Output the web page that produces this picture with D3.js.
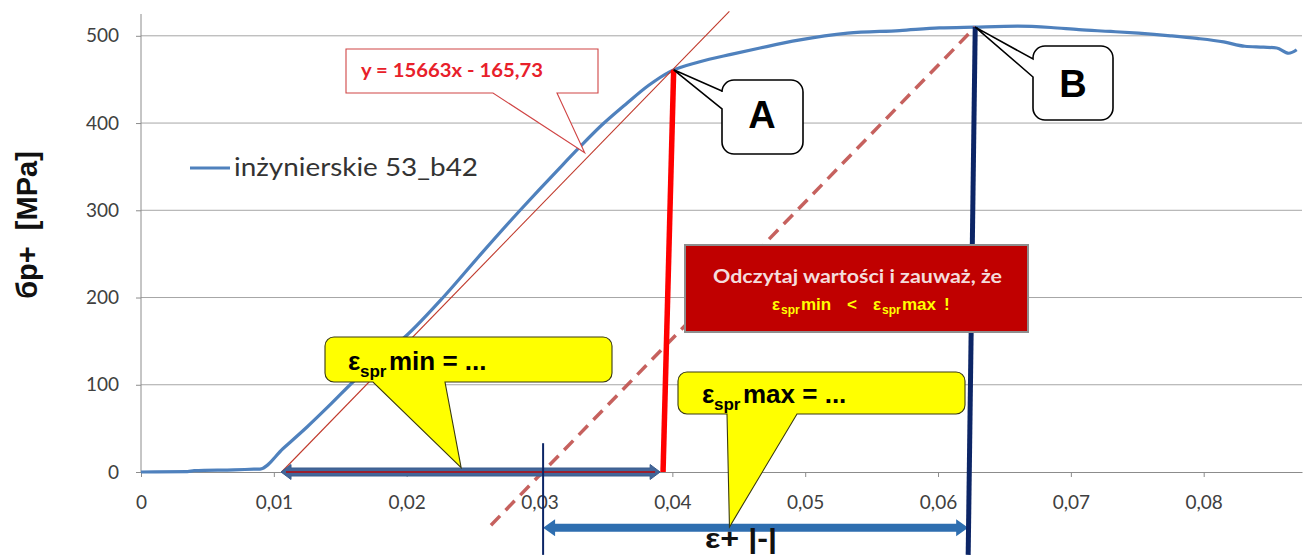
<!DOCTYPE html>
<html><head><meta charset="utf-8">
<script src="https://cdn.jsdelivr.net/npm/d3@7"></script>
<style>html,body{margin:0;padding:0;background:#fff;overflow:hidden}</style>
</head><body><svg id="c" width="1304" height="555"></svg>
<script>
// ---------- data ----------
const strain = [0, 0.0035, 0.0040, 0.0070, 0.0085, 0.00896, 0.0107, 0.0125, 0.0143, 0.01611, 0.0180, 0.02003, 0.02274, 0.0256, 0.02854, 0.0300, 0.03155, 0.0330, 0.03471, 0.0366, 0.0382, 0.03983, 0.0420, 0.0445, 0.0466, 0.0495, 0.0532, 0.0571, 0.0601, 0.0627, 0.0660, 0.0685, 0.0706, 0.0730, 0.0751, 0.0775, 0.0795, 0.0815, 0.0831, 0.0845, 0.0855, 0.0864, 0.0870];
const stress = [0, 0.5, 1.5, 2.5, 3.2, 3.4, 27, 51.6, 78, 105.5, 131, 157, 200, 250, 300, 324, 349, 372, 398, 423, 443, 459, 470, 479, 486, 495, 503, 506, 509, 510, 511, 509.5, 507, 505, 503, 500, 497, 493, 488, 487, 486, 480, 484];
const yTickValues = [0, 100, 200, 300, 400, 500];
const yTickLabels = ["0", "100", "200", "300", "400", "500"];
const xTickValues = [0, 0.01, 0.02, 0.03, 0.04, 0.05, 0.06, 0.07, 0.08];
const xTickLabels = ["0", "0,01", "0,02", "0,03", "0,04", "0,05", "0,06", "0,07", "0,08"];
const seriesName = "inżynierskie 53_b42";
const yTitle = "бp+  [MPa]";
const fitSlope = 15663, fitIntercept = -165.73;
const fitLabel = "y = 15663x - 165,73";
const fitTopStress = 528;
const pointA = [0.0401, 461];
const pointB = [0.0628, 510];
const redLineBottom = [0.0393, 0];
const navyLineBottom = [0.06227, -95];
const dashBottomStress = -61;
const minArrowX = [0.01054, 0.03908];
const minArrowStress = 0;
const plusArrowX = [0.03027, 0.06227];
const plusArrowStress = -64;
const markerX = 0.03027;
const markerStress = [33, -95];
const eqTip = [0.0334, 366];
const minTip = [0.0241, 5];
const maxTip = [0.0443, -63];
const labelA = "A", labelB = "B";
const noteLine1 = "Odczytaj wartości i zauważ, że";
const plusLabel = "ε+ |-|";

// ---------- scales ----------
const svg = d3.select("#c");
const x = d3.scaleLinear().domain([0, 0.0874]).range([141, 1302]);
const y = d3.scaleLinear().domain([0, 525]).range([472, 14]);
const P = d => [x(d[0]), y(d[1])];

// gridlines
svg.append("g").selectAll("line").data(yTickValues.filter(v => v > 0)).join("line")
  .attr("x1", x(0)).attr("x2", 1302).attr("y1", d => y(d)).attr("y2", d => y(d))
  .attr("stroke", "#a6a6a6").attr("stroke-width", 1);

// axes
const gy = svg.append("g").attr("transform", `translate(${x(0)},0)`)
  .call(d3.axisLeft(y).tickValues(yTickValues).tickFormat((d, i) => yTickLabels[i]).tickSize(5).tickSizeOuter(0).tickPadding(17));
const gx = svg.append("g").attr("transform", `translate(0,${y(0)})`)
  .call(d3.axisBottom(x).tickValues(xTickValues).tickFormat((d, i) => xTickLabels[i]).tickSize(5).tickSizeOuter(0));
[gx, gy].forEach(g => {
  g.select(".domain").attr("stroke", "#8c8c8c");
  g.selectAll(".tick line").attr("stroke", "#8c8c8c");
  g.selectAll("text").attr("fill", "#404040").style("font-family", "Lato, 'Open Sans', sans-serif").style("font-size", "19px");
});
gx.selectAll("text").attr("y", 37).attr("dy", 0);
gy.select(".domain").attr("d", `M0,${y(525)}V${y(0)}`);

// y title
svg.append("text").attr("transform", `translate(37,225) rotate(-90)`)
  .attr("text-anchor", "middle").attr("font-family", "'Liberation Sans', Arial, sans-serif")
  .style("white-space", "pre").attr("xml:space", "preserve")
  .attr("font-weight", "bold").attr("font-size", 29).attr("fill", "#111").text(yTitle);

// series
const line = d3.line().x(d => x(d[0])).y(d => y(d[1]));
const smooth = d3.line().x(d => x(d[0])).y(d => y(d[1])).curve(d3.curveMonotoneX);
svg.append("path").datum(strain.map((s, i) => [s, stress[i]]))
  .attr("d", smooth).attr("fill", "none").attr("stroke", "#4f81bd").attr("stroke-width", 3.2).attr("stroke-linejoin", "round");

// fit line
const fx0 = -fitIntercept / fitSlope, fx1 = (fitTopStress - fitIntercept) / fitSlope;
svg.append("path").datum([[fx0, 0], [fx1, fitTopStress]]).attr("d", line)
  .attr("stroke", "#c0392b").attr("stroke-width", 1.1).attr("fill", "none");

// dashed parallel through B
const dx0 = pointB[0] - (pointB[1] - dashBottomStress) / fitSlope;
svg.append("path").datum([[dx0, dashBottomStress], pointB]).attr("d", line)
  .attr("stroke", "#c0504d").attr("stroke-width", 3.5).attr("stroke-dasharray", "13,8").attr("fill", "none").attr("opacity", 0.9);

// legend
svg.append("line").attr("x1", 190).attr("x2", 230).attr("y1", 168).attr("y2", 168).attr("stroke", "#4f81bd").attr("stroke-width", 3.2);
svg.append("text").attr("x", 234).attr("y", 176).attr("font-family", "Lato, 'Open Sans', sans-serif").attr("font-size", 25)
  .attr("textLength", 244).attr("lengthAdjust", "spacingAndGlyphs").attr("fill", "#333").text(seriesName);

// arrows
function dblArrow(x1, x2, yy, sh, hw, hl) {
  return `M${x1},${yy}L${x1+hl},${yy-hw/2}L${x1+hl},${yy-sh/2}L${x2-hl},${yy-sh/2}L${x2-hl},${yy-hw/2}L${x2},${yy}L${x2-hl},${yy+hw/2}L${x2-hl},${yy+sh/2}L${x1+hl},${yy+sh/2}L${x1+hl},${yy+hw/2}Z`;
}
svg.append("path").attr("d", dblArrow(x(minArrowX[0]), x(minArrowX[1]), y(minArrowStress), 8, 15, 10)).attr("fill", "#42669a").attr("stroke", "#3a5c8c").attr("stroke-width", 1);
svg.append("line").attr("x1", x(minArrowX[0]) + 5).attr("x2", x(minArrowX[1]) - 5).attr("y1", y(minArrowStress)).attr("y2", y(minArrowStress)).attr("stroke", "#9b1f2e").attr("stroke-width", 2.2);
svg.append("path").attr("d", dblArrow(x(plusArrowX[0]), x(plusArrowX[1]), y(plusArrowStress), 8, 17, 12)).attr("fill", "#2e6eb0");

// vertical lines
svg.append("path").datum([pointA, redLineBottom]).attr("d", line).attr("stroke", "#ff0000").attr("stroke-width", 5.5).attr("fill", "none");
svg.append("path").datum([pointB, navyLineBottom]).attr("d", line).attr("stroke", "#0c2566").attr("stroke-width", 5).attr("fill", "none");
svg.append("path").datum([[markerX, markerStress[0]], [markerX, markerStress[1]]]).attr("d", line).attr("stroke", "#0c2566").attr("stroke-width", 2).attr("fill", "none");

// callout helpers
function calloutLeft(bx, by, w, h, r, a1, a2, t) {
  return `M${bx+r},${by}H${bx+w-r}A${r},${r} 0 0 1 ${bx+w},${by+r}V${by+h-r}A${r},${r} 0 0 1 ${bx+w-r},${by+h}H${bx+r}A${r},${r} 0 0 1 ${bx},${by+h-r}V${a2}L${t[0]},${t[1]}L${bx},${a1}V${by+r}A${r},${r} 0 0 1 ${bx+r},${by}Z`;
}
function calloutBottom(bx, by, w, h, r, b1, b2, t) {
  return `M${bx+r},${by}H${bx+w-r}A${r},${r} 0 0 1 ${bx+w},${by+r}V${by+h-r}A${r},${r} 0 0 1 ${bx+w-r},${by+h}H${b2}L${t[0]},${t[1]}L${b1},${by+h}H${bx+r}A${r},${r} 0 0 1 ${bx},${by+h-r}V${by+r}A${r},${r} 0 0 1 ${bx+r},${by}Z`;
}

// equation callout
svg.append("path").attr("d", calloutBottom(346, 49, 252, 44, 0, 493, 557, P(eqTip)))
  .attr("fill", "#fff").attr("stroke", "#d04545").attr("stroke-width", 1.1);
svg.append("text").attr("x", 361).attr("y", 77).attr("font-family", "Lato, 'Liberation Sans', sans-serif").attr("font-weight", "bold")
  .attr("font-size", 18).attr("fill", "#e8202a").attr("textLength", 182).attr("lengthAdjust", "spacingAndGlyphs").text(fitLabel);

// A / B callouts
svg.append("path").attr("d", calloutLeft(722, 80, 81, 74, 12, 91, 109, P(pointA))).attr("fill", "#fff").attr("stroke", "#000").attr("stroke-width", 1.6);
svg.append("text").attr("x", 762).attr("y", 128).attr("text-anchor", "middle").attr("font-family", "'Liberation Sans', Arial, sans-serif").attr("font-weight", "bold").attr("font-size", 38).text(labelA);
svg.append("path").attr("d", calloutLeft(1033, 46, 80, 74, 12, 59, 77, P(pointB))).attr("fill", "#fff").attr("stroke", "#000").attr("stroke-width", 1.6);
svg.append("text").attr("x", 1073).attr("y", 97).attr("text-anchor", "middle").attr("font-family", "'Liberation Sans', Arial, sans-serif").attr("font-weight", "bold").attr("font-size", 38).text(labelB);

// red note box
svg.append("rect").attr("x", 685).attr("y", 245).attr("width", 343).attr("height", 87).attr("fill", "#c00000").attr("stroke", "#8e8e8e").attr("stroke-width", 2);
svg.append("text").attr("x", 713).attr("y", 283).attr("font-family", "Lato, 'Liberation Sans', sans-serif").attr("font-weight", "bold").attr("font-size", 18)
  .attr("fill", "#f4dcdc").attr("textLength", 289).attr("lengthAdjust", "spacingAndGlyphs").text(noteLine1);
const n2 = svg.append("text").attr("y", 310).attr("font-family", "'Liberation Sans', Arial, sans-serif").attr("font-weight", "bold").attr("fill", "#ffff00").attr("font-size", 17);
[["ε", 772, 310, 17], ["spr", 781, 314, 12], ["min", 801, 310, 17], ["<", 847, 310, 17], ["ε", 873, 310, 17], ["spr", 882, 314, 12], ["max", 902, 310, 17], ["!", 944, 310, 17]]
  .forEach(t => n2.append("tspan").attr("x", t[1]).attr("y", t[2]).attr("font-size", t[3]).text(t[0]));

// yellow callouts
function yellowLabel(txt, x0, base) {
  const t = svg.append("text").attr("font-family", "'Liberation Sans', Arial, sans-serif").attr("font-weight", "bold").attr("fill", "#000");
  t.append("tspan").attr("x", x0).attr("y", base).attr("font-size", 26).text("ε");
  t.append("tspan").attr("x", x0 + 12).attr("y", base + 7).attr("font-size", 17).text("spr");
  t.append("tspan").attr("x", x0 + 41).attr("y", base).attr("font-size", 26).text(txt + " = ...");
}
svg.append("path").attr("d", calloutBottom(325, 337, 287, 45, 9, 373, 445, P(minTip))).attr("fill", "#ffff00").attr("stroke", "#3a3a10").attr("stroke-width", 1.1);
yellowLabel("min", 348, 370);
svg.append("path").attr("d", calloutBottom(678, 372, 287, 42, 9, 727, 797, P(maxTip))).attr("fill", "#ffff00").attr("stroke", "#3a3a10").attr("stroke-width", 1.1);
yellowLabel("max", 702, 403);

// epsilon label
svg.append("text").attr("x", 705).attr("y", 548).attr("font-family", "'Liberation Sans', Arial, sans-serif")
  .attr("font-weight", "bold").attr("font-size", 27).attr("textLength", 72).attr("lengthAdjust", "spacingAndGlyphs").attr("fill", "#111").text(plusLabel);
</script></body></html>
